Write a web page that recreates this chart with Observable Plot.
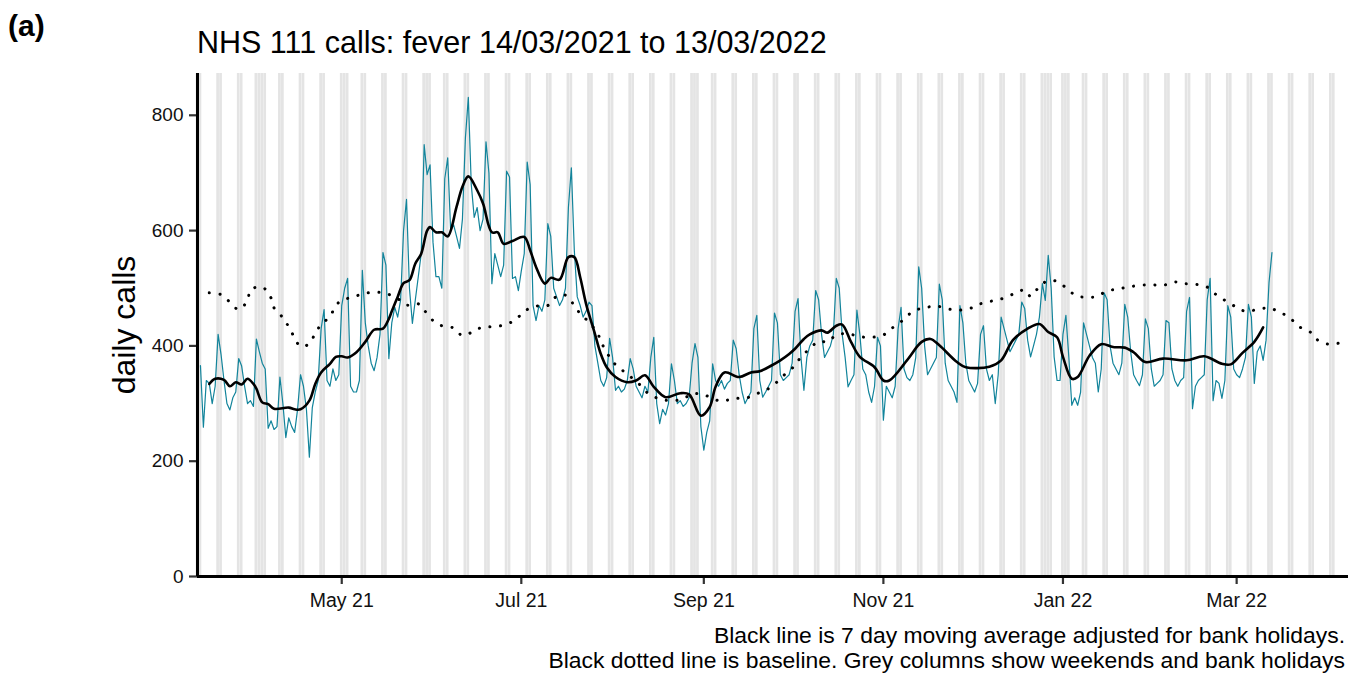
<!DOCTYPE html>
<html><head><meta charset="utf-8">
<script src="https://cdn.jsdelivr.net/npm/d3@7"></script>
<script src="https://cdn.jsdelivr.net/npm/@observablehq/plot@0.6"></script>
<style>
body{margin:0;background:#fff;font-family:"Liberation Sans",Arial,sans-serif}
#chart{position:relative;width:1350px;height:675px;overflow:hidden;background:#fff}
</style>
</head><body><div id="chart"></div>
<script>
// ---- data ----
const dailyStart = "2021-03-14";
const dailyCalls = [366,
259,340,335,300,330,420,385,
340,300,289,310,320,378,365,
330,300,305,295,412,390,370,
360,257,270,255,260,346,300,
241,275,260,250,290,350,330,
290,207,293,320,340,430,463,
340,330,360,340,350,470,500,
517,330,320,320,340,531,440,
400,370,357,380,420,562,540,
378,440,467,450,480,600,654,
500,439,480,520,560,749,697,
714,580,520,520,500,690,726,
600,610,590,569,620,760,831,
680,623,640,600,620,754,700,
508,560,540,520,540,703,693,
517,520,496,530,560,719,680,
470,444,470,460,480,612,590,
500,485,470,480,500,640,709,
566,485,470,450,460,476,470,
400,370,340,330,345,413,380,
323,330,320,325,340,378,360,
330,320,310,330,320,380,415,
300,265,290,280,300,369,340,
300,305,295,300,310,370,404,
380,260,219,250,270,369,340,
330,340,325,335,340,410,395,
350,320,300,310,320,430,453,
340,311,320,330,340,457,440,
350,340,345,350,370,460,482,
380,323,380,400,410,496,480,
420,380,390,400,420,517,500,
420,380,329,340,350,462,420,
360,350,320,302,330,415,400,
271,330,320,310,330,430,467,
360,345,340,350,380,537,500,
400,350,360,370,380,507,480,
370,340,330,320,302,470,440,
370,340,330,320,335,420,435,
360,340,350,300,350,450,430,
410,390,400,410,420,476,465,
410,381,400,420,450,508,479,
557,500,381,340,340,420,453,
380,297,310,297,320,440,420,
400,380,370,320,360,492,480,
400,370,360,350,370,472,450,
390,350,340,331,350,447,430,
360,330,335,340,350,444,440,
360,340,330,340,345,460,484,
291,330,340,345,350,480,517,
305,340,335,309,340,470,450,
360,350,345,360,380,472,450,
335,390,400,375,410,510,562];

// 7 day moving average: day number counted from 14/03/2021, value
const maDay = [3,5,8,10,12,14,16,18,19,21,23,25,30,32,34,37,39,41,44,46,48,50,53,56,59,62,64,65,67,69,71,73,75,77,78,80,82,84,87,89,91,94,96,99,101,103,106,110,112,114,117,119,122,125,127,129,131,134,136,138,141,145,148,151,154,158,163,166,170,173,175,178,183,187,190,194,197,200,202,205,207,211,213,216,218,221,224,229,232,234,240,245,248,251,257,260,268,272,276,281,285,288,291,293,296,298,302,306,310,314,317,321,327,335,341,347,350,354,358,361];
const maValue = [334,343,341,330,337,333,343,334,326,302,299,291,293,290,290,305,334,354,369,381,382,380,389,407,428,430,447,460,485,509,514,543,560,600,606,597,597,590,641,676,694,670,647,597,597,577,582,589,566,537,508,518,515,554,554,519,473,421,386,363,346,337,340,349,329,311,318,316,279,294,329,354,346,354,356,366,375,386,395,412,420,427,423,435,437,407,381,363,340,340,375,407,412,401,372,363,364,375,410,430,438,424,415,381,343,346,383,403,398,397,389,372,378,375,382,369,368,388,407,432];

// baseline: day number counted from 14/03/2021, value
const baseDay = [3,7,10,13,16,17,21,24,25,28,30,32,34,37,39,41,44,46,48,52,55,59,63,67,70,74,76,79,82,86,89,93,96,100,104,107,110,114,118,121,124,127,129,132,135,136,138,140,143,146,149,152,156,160,164,167,171,177,181,185,189,193,196,199,202,204,207,210,213,216,220,224,228,232,235,239,242,246,250,254,258,262,265,269,273,277,280,282,284,286,289,292,295,298,301,304,308,312,315,319,323,327,331,334,338,342,345,348,352,355,359,363,366,370,373,377,379,383,387];
const baseValue = [492,489,476,463,479,497,502,483,466,449,433,414,399,404,422,437,451,470,479,485,490,493,491,482,471,473,462,444,435,431,418,426,433,433,438,445,460,469,470,486,488,470,456,441,421,408,389,373,359,347,334,318,308,305,308,317,315,304,309,309,317,326,338,353,366,381,395,408,407,419,421,416,415,419,431,446,460,466,469,464,462,466,473,478,483,492,497,486,497,508,514,509,496,486,485,485,495,499,502,505,506,505,511,508,507,502,489,479,467,460,463,466,460,449,434,424,412,403,405];

const bankHolidays = ["2021-04-02","2021-04-05","2021-05-03","2021-05-31","2021-08-30","2021-12-27","2021-12-28","2022-01-03"];
const xTicks = ["2021-05-01","2021-07-01","2021-09-01","2021-11-01","2022-01-01","2022-03-01"];
const yTicks = [0,200,400,600,800];
const xDomain = ["2021-03-13","2022-04-08"];
const yMax = 872.5;

const titleText = "NHS 111 calls: fever 14/03/2021 to 13/03/2022";
const panelTag = "(a)";
const yLabel = "daily calls";
const captionLines = ["Black line is 7 day moving average adjusted for bank holidays.",
                      "Black dotted line is baseline. Grey columns show weekends and bank holidays"];

// ---- build tables ----
const parse = d3.utcParse("%Y-%m-%d");
const t0 = parse(dailyStart);
const daily = dailyCalls.map((v, i) => ({date: d3.utcDay.offset(t0, i), value: v}));
const ma = maDay.map((d, i) => ({date: d3.utcDay.offset(t0, d), value: maValue[i]}));
const base = baseDay.map((d, i) => ({date: d3.utcDay.offset(t0, d), value: baseValue[i]}));
const bh = new Set(bankHolidays);
const fmt = d3.utcFormat("%Y-%m-%d");
const columns = d3.utcDays(parse(xDomain[0]), d3.utcDay.offset(parse(xDomain[1]), 1))
  .filter(d => d.getUTCDay() === 0 || d.getUTCDay() === 6 || bh.has(fmt(d)));

const FONT = "Liberation Sans, Arial, Helvetica, sans-serif";

const plot = Plot.plot({
  width: 1350, height: 675,
  marginLeft: 197, marginRight: 2, marginTop: 73, marginBottom: 99,
  style: {fontFamily: FONT, background: "white", color: "#111"},
  x: {type: "utc", domain: xDomain.map(parse)},
  y: {domain: [0, yMax]},
  marks: [
    Plot.rect(columns, {x1: d => d3.utcHour.offset(d, -11), x2: d => d3.utcHour.offset(d, 11), y1: 0, y2: yMax, fill: "#e4e4e4"}),
    Plot.line(daily, {x: "date", y: "value", stroke: "#12849b", strokeWidth: 1.2}),
    Plot.line(base, {x: "date", y: "value", stroke: "black", strokeWidth: 3, strokeDasharray: "0.1 10.6", strokeLinecap: "round", curve: "catmull-rom"}),
    Plot.line(ma, {x: "date", y: "value", stroke: "black", strokeWidth: 2.6, curve: "catmull-rom"}),
    Plot.axisX({ticks: xTicks.map(parse), tickFormat: d3.utcFormat("%b %y"), tickSize: 8, tickPadding: 8.5, fontSize: 19.5, label: null, stroke: "#333", strokeWidth: 2.2, fill: "#111"}),
    Plot.axisY({ticks: yTicks, tickSize: 8, tickPadding: 6, fontSize: 19, label: null, stroke: "#333", strokeWidth: 2.2, fill: "#111"}),
    Plot.ruleX([parse(xDomain[0])], {stroke: "black", strokeWidth: 3}),
    Plot.ruleY([0], {stroke: "black", strokeWidth: 3})
  ]
});
document.getElementById("chart").appendChild(plot);

const svg = d3.select(plot);
svg.append("text").attr("x", 8).attr("y", 36).attr("text-anchor", "start").attr("font-family", FONT).attr("font-size", 30).attr("font-weight", "bold").attr("fill", "black").text(panelTag);
svg.append("text").attr("x", 197).attr("y", 53).attr("text-anchor", "start").attr("font-family", FONT).attr("font-size", 30.5).attr("fill", "black").text(titleText);
svg.append("text").attr("transform", "translate(135,325) rotate(-90)").attr("text-anchor", "middle").attr("font-family", FONT).attr("font-size", 32).attr("fill", "black").text(yLabel);
captionLines.forEach((t, i) => {
  svg.append("text").attr("x", 1345).attr("y", 643 + i * 25).attr("text-anchor", "end").attr("font-family", FONT).attr("font-size", 22.9).attr("fill", "black").text(t);
});
</script>
</body></html>
